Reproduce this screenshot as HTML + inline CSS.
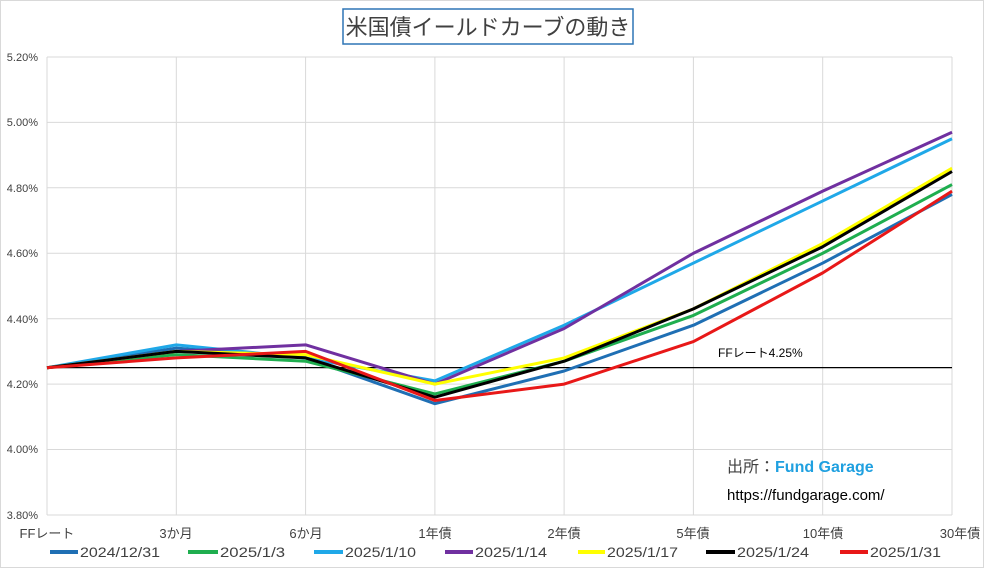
<!DOCTYPE html>
<html><head><meta charset="utf-8"><style>
body{margin:0;background:#fff;}
svg{display:block;font-family:"Liberation Sans","Noto Sans CJK JP",sans-serif;}
</style></head><body>
<svg width="984" height="568" viewBox="0 0 984 568">
<rect x="0" y="0" width="984" height="568" fill="#fff"/>
<rect x="0.5" y="0.5" width="983" height="567" fill="none" stroke="#d9d9d9"/>
<rect x="343" y="9" width="290" height="35" fill="#fff" stroke="#2e75b6" stroke-width="1.5"/>
<text x="488" y="35" text-anchor="middle" font-size="22" fill="#404040">米国債イールドカーブの動き</text>
<g stroke="#d9d9d9" stroke-width="1">
<line x1="47" y1="57" x2="952" y2="57"/><line x1="47" y1="122.4" x2="952" y2="122.4"/>
<line x1="47" y1="187.8" x2="952" y2="187.8"/><line x1="47" y1="253.3" x2="952" y2="253.3"/>
<line x1="47" y1="318.7" x2="952" y2="318.7"/><line x1="47" y1="384.1" x2="952" y2="384.1"/>
<line x1="47" y1="449.5" x2="952" y2="449.5"/><line x1="47" y1="515" x2="952" y2="515"/>
<line x1="47" y1="57" x2="47" y2="515"/><line x1="176.3" y1="57" x2="176.3" y2="515"/>
<line x1="305.6" y1="57" x2="305.6" y2="515"/><line x1="434.9" y1="57" x2="434.9" y2="515"/>
<line x1="564.1" y1="57" x2="564.1" y2="515"/><line x1="693.4" y1="57" x2="693.4" y2="515"/>
<line x1="822.7" y1="57" x2="822.7" y2="515"/><line x1="952" y1="57" x2="952" y2="515"/>
</g>
<g font-size="11" fill="#404040" text-anchor="end">
<text x="38" y="61">5.20%</text><text x="38" y="126">5.00%</text><text x="38" y="192">4.80%</text>
<text x="38" y="257">4.60%</text><text x="38" y="323">4.40%</text><text x="38" y="388">4.20%</text>
<text x="38" y="453">4.00%</text><text x="38" y="519">3.80%</text>
</g>
<g font-size="13" fill="#404040" text-anchor="middle">
<text x="47" y="538">FFレート</text><text x="176" y="538">3か月</text><text x="306" y="538">6か月</text>
<text x="435" y="538">1年債</text><text x="564" y="538">2年債</text><text x="693" y="538">5年債</text>
<text x="823" y="538">10年債</text><text x="960" y="538">30年債</text>
</g>
<line x1="47" y1="367.6" x2="952" y2="367.6" stroke="#000" stroke-width="1.3"/>
<text x="718" y="357" font-size="12" fill="#000">FFレート4.25%</text>
<text x="727" y="472" font-size="16" fill="#404040">出所：<tspan fill="#1fa0e0" font-weight="bold">Fund Garage</tspan></text>
<text x="727" y="500" font-size="15" fill="#000">https://fundgarage.com/</text>
<g transform="translate(47,57) scale(129.29,-327.1) translate(0,-5.20)" fill="none" stroke-width="3" stroke-linejoin="round">
<polyline vector-effect="non-scaling-stroke" stroke="#1f6fb4" points="0,4.25 1,4.31 2,4.28 3,4.14 4,4.24 5,4.38 6,4.57 7,4.78"/>
<polyline vector-effect="non-scaling-stroke" stroke="#1fae4f" points="0,4.25 1,4.29 2,4.27 3,4.17 4,4.27 5,4.41 6,4.60 7,4.81"/>
<polyline vector-effect="non-scaling-stroke" stroke="#1fa8e8" points="0,4.25 1,4.32 2,4.28 3,4.21 4,4.38 5,4.57 6,4.76 7,4.95"/>
<polyline vector-effect="non-scaling-stroke" stroke="#7030a0" points="0,4.25 1,4.30 2,4.32 3,4.20 4,4.37 5,4.60 6,4.79 7,4.97"/>
<polyline vector-effect="non-scaling-stroke" stroke="#ffff00" points="0,4.25 1,4.30 2,4.29 3,4.20 4,4.28 5,4.43 6,4.63 7,4.86"/>
<polyline vector-effect="non-scaling-stroke" stroke="#000000" points="0,4.25 1,4.30 2,4.28 3,4.16 4,4.27 5,4.43 6,4.62 7,4.85"/>
<polyline vector-effect="non-scaling-stroke" stroke="#e81818" points="0,4.25 1,4.28 2,4.30 3,4.15 4,4.20 5,4.33 6,4.54 7,4.79"/>
</g>
<g font-size="14" fill="#404040" stroke-width="4" lengthAdjust="spacingAndGlyphs">
<line x1="50" y1="552" x2="78" y2="552" stroke="#1f6fb4"/><text x="80" y="557" textLength="80" lengthAdjust="spacingAndGlyphs">2024/12/31</text>
<line x1="188" y1="552" x2="218" y2="552" stroke="#1fae4f"/><text x="220" y="557" textLength="65" lengthAdjust="spacingAndGlyphs">2025/1/3</text>
<line x1="314" y1="552" x2="343" y2="552" stroke="#1fa8e8"/><text x="345" y="557" textLength="71" lengthAdjust="spacingAndGlyphs">2025/1/10</text>
<line x1="445" y1="552" x2="473" y2="552" stroke="#7030a0"/><text x="475" y="557" textLength="72" lengthAdjust="spacingAndGlyphs">2025/1/14</text>
<line x1="578" y1="552" x2="605" y2="552" stroke="#ffff00"/><text x="607" y="557" textLength="71" lengthAdjust="spacingAndGlyphs">2025/1/17</text>
<line x1="706" y1="552" x2="735" y2="552" stroke="#000"/><text x="737" y="557" textLength="72" lengthAdjust="spacingAndGlyphs">2025/1/24</text>
<line x1="840" y1="552" x2="868" y2="552" stroke="#e81818"/><text x="870" y="557" textLength="71" lengthAdjust="spacingAndGlyphs">2025/1/31</text>
</g>
</svg>
</body></html>
